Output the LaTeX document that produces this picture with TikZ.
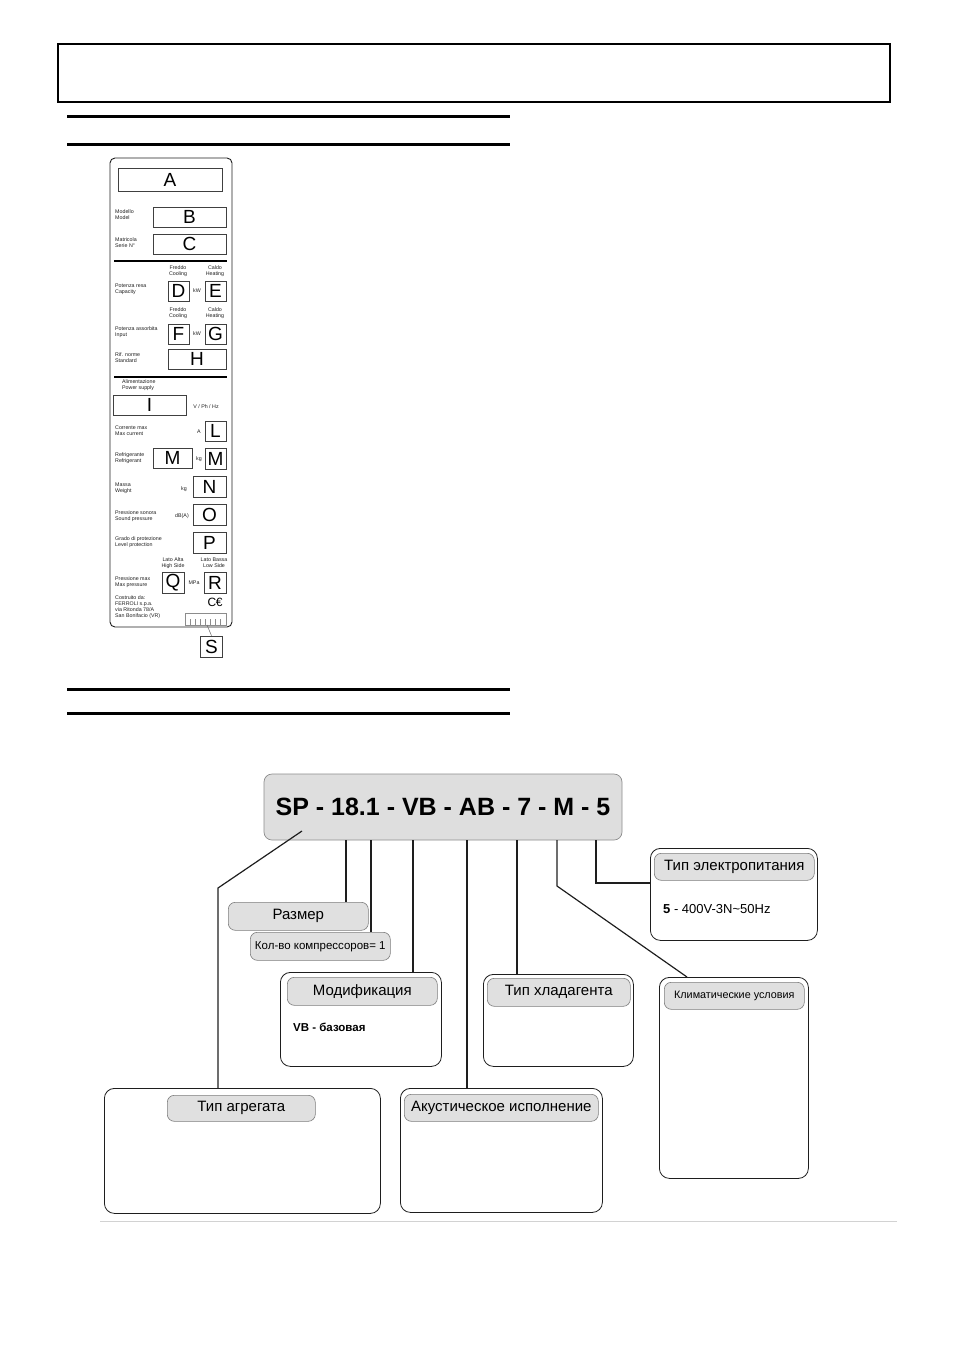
\documentclass[tikz,border=0pt]{standalone}
\usepackage{fontspec}
\setmainfont{Liberation Sans}
\usetikzlibrary{
    calc,
    positioning
}
\definecolor{ink}{RGB}{30,30,30}
\definecolor{tagfill}{RGB}{224,224,224}
\definecolor{tagdraw}{RGB}{125,125,125}
\definecolor{codefill}{RGB}{222,222,222}
\definecolor{rulegray}{RGB}{210,210,210}
\tikzset{
    line cap=round,
    line join=round,
    rulebar/.style={
        line width=3pt,
        line cap=butt
    },
    platebar/.style={
        line width=2.4pt,
        line cap=butt
    },
    cell/.style={
        draw=black!75,
        line width=0.6pt,
        inner sep=0pt,
        font=\fontsize{19}{19}\selectfont
    },
    tiny/.style={
        font=\fontsize{5.3}{6}\selectfont,
        align=left,
        inner sep=0pt,
        text=ink
    },
    unit/.style={
        tiny,
        align=center
    },
    codebox/.style={
        draw=black!45,
        fill=codefill,
        rounded corners=8pt,
        line width=0.7pt,
        font=\fontsize{25}{25}\selectfont\bfseries
    },
    groupbox/.style={
        draw=ink,
        fill=white,
        rounded corners=10pt,
        line width=0.8pt,
        anchor=north west
    },
    tagbox/.style={
        draw=tagdraw,
        fill=tagfill,
        rounded corners=7pt,
        line width=0.6pt,
        anchor=north west,
        inner sep=1pt,
        font=\fontsize{15}{15}\selectfont
    },
    bodytxt/.style={
        anchor=west,
        inner sep=0pt,
        font=\fontsize{13}{13}\selectfont
    },
    lead/.style={
        draw=ink,
        line width=1.2pt
    }
}

\begin{document}
\begin{tikzpicture}[x=1pt, y=-1pt]
\useasboundingbox (0,0) rectangle (955,1350);

% Header frame and section rules
\draw[line width=2.6pt] (58,44) rectangle (890,102);
\foreach \y in {116,144,689,713} {
    \draw[rulebar] (67,\y) -- (510,\y);
}

% Nameplate
\draw[ink, line width=0.9pt, rounded corners=5pt] (110,158) rectangle (232,627);
\draw[platebar] (114,261) -- (227,261);
\draw[platebar] (114,377) -- (227,377);

\node[cell, minimum width=104pt, minimum height=23pt] (pA) at (170,179.5) {A};
\node[cell, minimum width=73pt, minimum height=20pt] (pB) at (189.5,217) {B};
\node[cell, minimum width=73pt, minimum height=20pt] (pC) at (189.5,244) {C};
\node[cell, minimum width=21pt, minimum height=20pt] (pD) at (178.5,291) {D};
\node[cell, minimum width=21pt, minimum height=20pt] (pE) at (215.5,291) {E};
\node[cell, minimum width=21pt, minimum height=20pt] (pF) at (178.5,334) {F};
\node[cell, minimum width=21pt, minimum height=20pt] (pG) at (215.5,334) {G};
\node[cell, minimum width=58pt, minimum height=20pt] (pH) at (197,359) {H};
\node[cell, minimum width=73pt, minimum height=20pt] (pI) at (149.5,405) {I};
\node[cell, minimum width=21pt, minimum height=20pt] (pL) at (215.5,431) {L};
\node[cell, minimum width=39pt, minimum height=20pt] (pM) at (172.5,458) {M};
\node[cell, minimum width=21pt, minimum height=21pt] (pMk) at (215.5,458.5) {M};
\node[cell, minimum width=33pt, minimum height=21pt] (pN) at (209.5,487) {N};
\node[cell, minimum width=33pt, minimum height=21pt] (pO) at (209.5,514.5) {O};
\node[cell, minimum width=33pt, minimum height=21pt] (pP) at (209.5,542.5) {P};
\node[cell, minimum width=22pt, minimum height=21pt] (pQ) at (173,582.5) {Q};
\node[cell, minimum width=22pt, minimum height=21pt] (pR) at (215,582.5) {R};
\node[cell, minimum width=22pt, minimum height=21pt] (pS) at (211.5,646.5) {S};

% Plate captions
\foreach \n/\y/\txt in {mod/215/{Modello\\Model}, ser/243/{Matricola\\Serie N°},
    cap/289/{Potenza resa\\Capacity}, inp/332/{Potenza assorbita\\Input},
    std/358/{Rif. norme\\Standard}, cur/431/{Corrente max\\Max current},
    ref/458/{Refrigerante\\Refrigerant}, wei/488/{Massa\\Weight},
    snd/516/{Pressione sonora\\Sound pressure}, lev/542/{Grado di protezione\\Level protection},
    prs/582/{Pressione max\\Max pressure},
    mak/607/{Costruito da:\\FERROLI s.p.a.\\via Ritonda 78/A\\San Bonifacio (VR)}} {
    \node[tiny, anchor=west] (l\n) at (115,\y) {\txt};
}
\node[tiny, anchor=west] (lpow) at (122,385) {Alimentazione\\Power supply};

\foreach \n/\x/\y/\txt in {c1/178/271/{Freddo\\Cooling}, h1/215/271/{Caldo\\Heating},
    c2/178/313/{Freddo\\Cooling}, h2/215/313/{Caldo\\Heating},
    hi/173/563/{Lato Alta\\High Side}, lo/214/563/{Lato Bassa\\Low Side},
    kw1/197/291/kW, kw2/197/334/kW, vph/206/407/{V / Ph / Hz}, amp/199/432/A,
    kg1/199/459/kg, kg2/184/489/kg, dba/182/516/dB(A), mpa/194/583/MPa} {
    \node[unit] (u\n) at (\x,\y) {\txt};
}
\node[inner sep=0pt, font=\fontsize{12}{12}\selectfont] (ce) at (215,602) {C\kern-0.5pt€};

% Serial strip
\draw[black!45, line width=0.5pt] (185,613) rectangle (226,625);
\foreach \x in {190,195,...,222} {
    \draw[black!45, line width=0.4pt] (\x,619) -- (\x,625);
}
\coordinate (strip) at (207,625);
\draw[black!60, line width=0.5pt] (strip) -- (pS.north);

% Model code
\node[codebox, minimum width=358pt, minimum height=66pt] (code) at (443,807)
    {SP - 18.1 - VB - AB - 7 - M - 5};

% Group boxes
\node[groupbox, minimum width=167pt, minimum height=92pt] (elec) at (650,848) {};
\node[tagbox, minimum width=160pt, minimum height=27pt] (elecTag) at (654,853) {Тип электропитания};
\node[bodytxt] (elecTxt) at (663,909) {\textbf{5} - 400V-3N\textasciitilde 50Hz};

\node[tagbox, minimum width=140pt, minimum height=28pt] (razmer) at (228,902) {Размер};
\node[tagbox, minimum width=140pt, minimum height=28pt, font=\fontsize{11.5}{11.5}\selectfont] (kolvo) at (250,932) {Кол-во компрессоров= 1};

\node[groupbox, minimum width=161pt, minimum height=94pt] (mod) at (280,972) {};
\node[tagbox, minimum width=150pt, minimum height=28pt] (modTag) at (287,977) {Модификация};
\node[bodytxt, font=\fontsize{11.5}{11.5}\selectfont\bfseries] (modTxt) at (293,1027) {VB - базовая};

\node[groupbox, minimum width=150pt, minimum height=92pt] (hlad) at (483,974) {};
\node[tagbox, minimum width=143pt, minimum height=28pt] (hladTag) at (487,978) {Тип хладагента};

\node[groupbox, minimum width=149pt, minimum height=201pt] (klim) at (659,977) {};
\node[tagbox, minimum width=140pt, minimum height=27pt, font=\fontsize{10.8}{10.8}\selectfont] (klimTag) at (664,982) {Климатические условия};

\node[groupbox, minimum width=276pt, minimum height=125pt] (agr) at (104,1088) {};
\node[tagbox, minimum width=148pt, minimum height=26pt] (agrTag) at (167,1095) {Тип агрегата};

\node[groupbox, minimum width=202pt, minimum height=124pt] (akust) at (400,1088) {};
\node[tagbox, minimum width=194pt, minimum height=27pt] (akustTag) at (404,1094) {Акустическое исполнение};

% Leaders from the code
\coordinate (tSP) at (302,831);
\coordinate (kSP) at (218,888);
\coordinate (t8) at (346,840);
\coordinate (t1) at (371,840);
\coordinate (tVB) at (413,840);
\coordinate (tAB) at (467,840);
\coordinate (t7) at (517,840);
\coordinate (tM) at (557,840);
\coordinate (kM) at (557,886);
\coordinate (t5) at (596,840);
\coordinate (k5) at (596,883);
\coordinate (klimIn) at (687,977);

\draw[lead] (tSP) -- (kSP) -- (kSP |- agr.north);
\draw[lead] (t8) -- (t8 |- razmer.north);
\draw[lead] (t1) -- (t1 |- kolvo.north);
\draw[lead] (tVB) -- (tVB |- mod.north);
\draw[lead] (tAB) -- (tAB |- akust.north);
\draw[lead] (t7) -- (t7 |- hlad.north);
\draw[lead] (tM) -- (kM) -- (klimIn);
\draw[lead] (t5) -- (k5) -- (k5 -| elec.west);

% Footer rule
\draw[rulegray, line width=1pt] (100,1221) -- (897,1221);
\end{tikzpicture}
\end{document}
